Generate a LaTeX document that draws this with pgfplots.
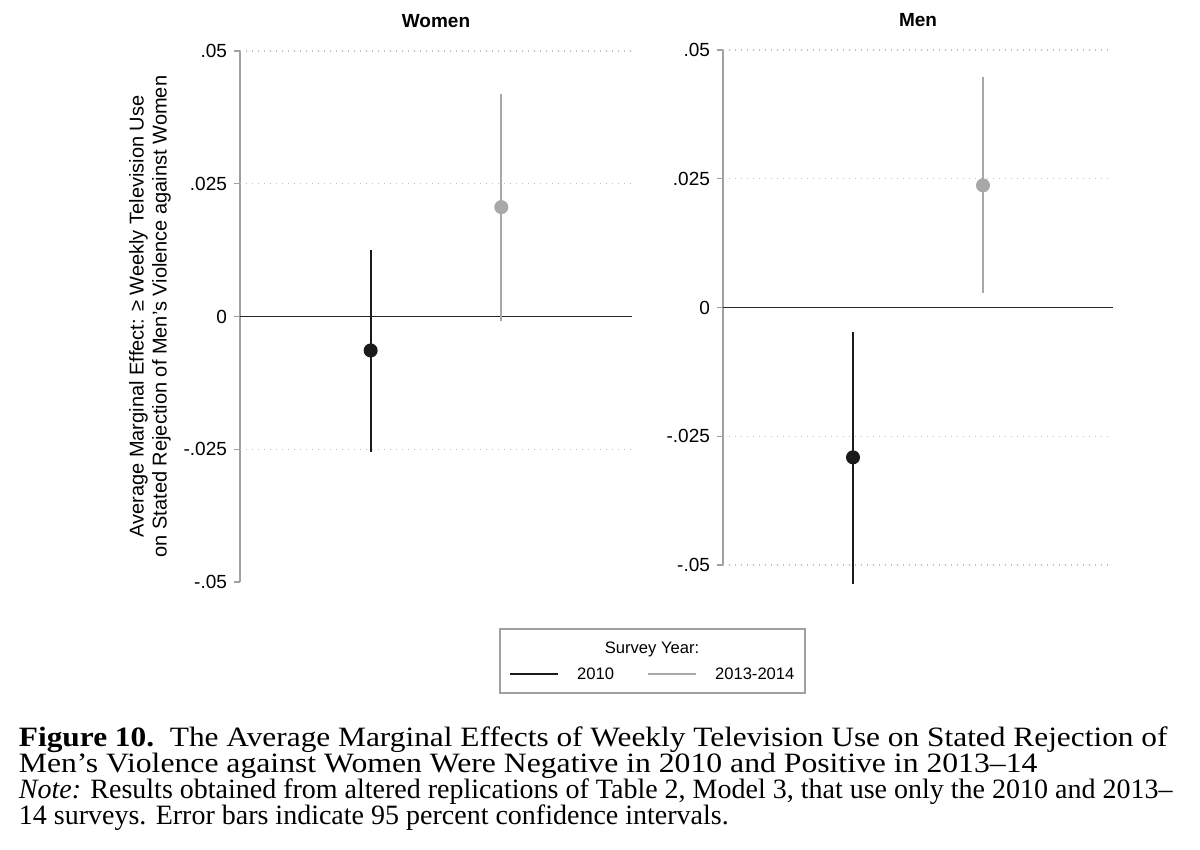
\documentclass[border=0pt]{standalone}
\usepackage{fontspec}
\setmainfont{Liberation Sans}
\newfontfamily\capfont{Liberation Serif}
\usepackage{pgfplots}
\pgfplotsset{compat=1.18}
\definecolor{cA}{HTML}{1A1A1A}
\definecolor{cB}{HTML}{A8A8A8}
\definecolor{axgray}{HTML}{A0A0A0}
\definecolor{gridgray}{HTML}{BEBEBE}
\pgfplotsset{
  panel/.style={
    scale only axis,
    xmin=0, xmax=3,
    ymin=-0.05, ymax=0.05,
    axis x line=none,
    axis y line*=left,
    y axis line style={draw=axgray, line width=0.6pt, -},
    ytick={-0.05,-0.025,0,0.025,0.05},
    yticklabels={-.05,-.025,0,.025,.05},
    scaled y ticks=false,
    tick align=outside,
    major tick length=3pt,
    ytick style={draw=axgray, line width=0.6pt},
    ymajorgrids=false,
    extra y tick style={grid=major, major grid style={draw=gridgray, line width=0.6pt, dash pattern=on 0.6pt off 2.4pt}, major tick length=0pt, yticklabel=\empty},
    yticklabel style={font=\fontsize{9.5}{11}\selectfont, text=black},
    title style={font=\bfseries\fontsize{9.5}{11}\selectfont, yshift=2pt},
    clip=false,
  },
  ci/.style={line width=1pt, mark=*, mark size=3pt, color=#1,
    mark options={fill=#1, draw=#1},
    error bars/y dir=both, error bars/y explicit, error bars/error mark=none,
    error bars/error bar style={line width=1pt, color=#1}},
}
\begin{document}
\begin{tikzpicture}
\path[use as bounding box] (0,0) rectangle (600pt,425pt);
% Women
\begin{axis}[panel, at={(120pt,134pt)}, anchor=south west,
  width=196pt, height=265.5pt, title={Women},
  extra y ticks={-0.025,0.025,0.05},
  ylabel shift=-3.5pt,
  ylabel style={font=\fontsize{10}{11.5}\selectfont, align=center},
  ylabel={Average Marginal Effect: ≥ Weekly Television Use\\on Stated Rejection of Men’s Violence against Women}]
\draw[black!85, line width=0.7pt] (axis cs:0,0) -- (axis cs:3,0);
\addplot+[ci=cA] coordinates {(1,-0.0064) += (0,0.0189) -= (0,0.0191)};
\addplot+[ci=cB] coordinates {(2,0.0206) += (0,0.0213) -= (0,0.0215)};
\end{axis}
% Men
\begin{axis}[panel, at={(361.5pt,142.5pt)}, anchor=south west,
  width=195pt, height=257.5pt, title={Men},
  extra y ticks={-0.05,-0.025,0.025,0.05}]
\draw[black!85, line width=0.7pt] (axis cs:0,0) -- (axis cs:3,0);
\addplot+[ci=cA] coordinates {(1,-0.0291) += (0,0.0244) -= (0,0.0245)};
\addplot+[ci=cB] coordinates {(2,0.0237) += (0,0.0210) -= (0,0.0208)};
\end{axis}
% Legend
\draw[axgray, line width=0.6pt] (250pt,78.5pt) rectangle (402.5pt,110.5pt);
\node[font=\fontsize{8.3}{10}\selectfont] at (326pt,100.5pt) {Survey Year:};
\draw[cA, line width=1pt] (255pt,88pt) -- (279pt,88pt);
\node[font=\fontsize{8.3}{10}\selectfont, anchor=west] at (285pt,88pt) {2010};
\draw[cB, line width=1pt] (324pt,88pt) -- (348pt,88pt);
\node[font=\fontsize{8.3}{10}\selectfont, anchor=west] at (354pt,88pt) {2013-2014};
% Caption
\begin{scope}[every node/.style={anchor=base west, inner sep=0pt, font=\capfont\fontsize{14}{16}\selectfont}]
\node at (9.25pt,51.6pt) {\scalebox{1.12}[1]{\textbf{Figure 10.}\enspace The Average Marginal Effects of Weekly Television Use on Stated Rejection of}};
\node at (9.25pt,38.8pt) {\scalebox{1.132}[1]{Men’s Violence against Women Were Negative in 2010 and Positive in 2013–14}};
\node at (9.25pt,25.5pt) {\textit{Note:} Results obtained from altered replications of Table 2, Model 3, that use only the 2010 and 2013–};
\node at (9.25pt,12.5pt) {14 surveys. Error bars indicate 95 percent confidence intervals.};
\end{scope}
\end{tikzpicture}
\end{document}
